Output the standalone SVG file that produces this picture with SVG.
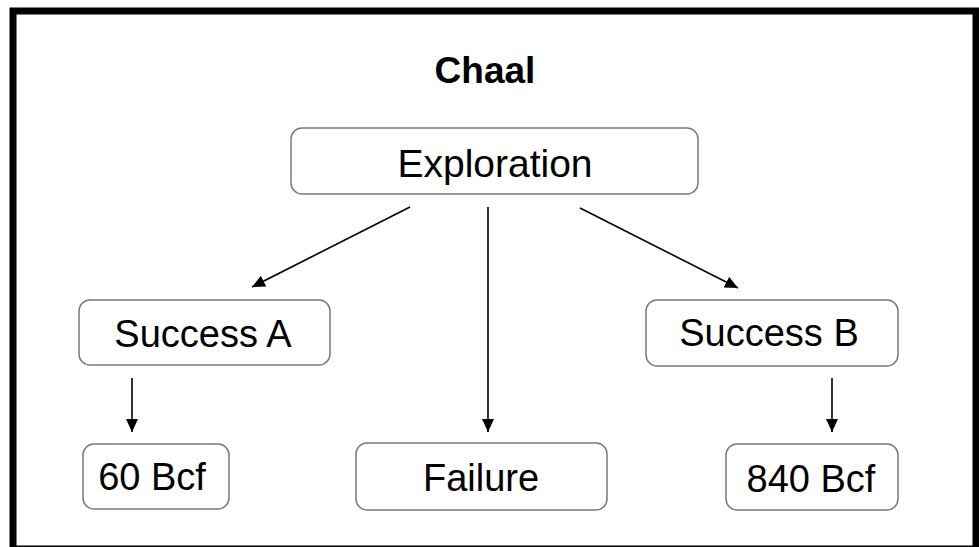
<svg xmlns="http://www.w3.org/2000/svg" width="979" height="547" viewBox="0 0 979 547">
  <defs>
    <marker id="arrow" markerUnits="userSpaceOnUse" markerWidth="14" markerHeight="14" viewBox="0 0 14 14" refX="13" refY="7" orient="auto">
      <path d="M0,1 L13,7 L0,13 Z" fill="#000"/>
    </marker>
  </defs>
  <style>
    .box { fill: #fff; stroke: #7a7a7a; stroke-width: 1.5; }
    .label { font-family: "Liberation Sans", Arial, sans-serif; font-size: 38px; fill: #000; text-anchor: middle; }
    .title { font-family: "Liberation Sans", Arial, sans-serif; font-size: 37px; font-weight: bold; fill: #000; text-anchor: middle; }
    .edge { stroke: #000; stroke-width: 1.6; fill: none; marker-end: url(#arrow); }
  </style>

  <rect width="979" height="547" fill="#fff"/>
  <!-- slide frame -->
  <rect x="13" y="11" width="963" height="538" fill="none" stroke="#000" stroke-width="7"/>

  <text class="title" x="485" y="83">Chaal</text>

  <g id="connectors">
    <line class="edge" x1="410" y1="207" x2="252" y2="287"/>
    <line class="edge" x1="488" y1="207" x2="488" y2="432"/>
    <line class="edge" x1="580" y1="208" x2="738" y2="288"/>
    <line class="edge" x1="132" y1="378" x2="132" y2="432"/>
    <line class="edge" x1="832" y1="378" x2="832" y2="432"/>
  </g>

  <g id="exploration">
    <rect class="box" x="291" y="128" width="407" height="66" rx="11"/>
    <text class="label" x="495" y="177" style="font-size:39px">Exploration</text>
  </g>

  <g id="success-a">
    <rect class="box" x="79" y="300" width="251" height="65" rx="11"/>
    <text class="label" x="203" y="347">Success A</text>
  </g>

  <g id="success-b">
    <rect class="box" x="646" y="300" width="252" height="66" rx="11"/>
    <text class="label" x="769" y="346">Success B</text>
  </g>

  <g id="bcf-60">
    <rect class="box" x="83" y="444" width="146" height="65" rx="11"/>
    <text class="label" x="152" y="490">60 Bcf</text>
  </g>

  <g id="failure">
    <rect class="box" x="356" y="443" width="251" height="67" rx="11"/>
    <text class="label" x="481" y="491">Failure</text>
  </g>

  <g id="bcf-840">
    <rect class="box" x="726" y="444" width="172" height="66" rx="11"/>
    <text class="label" x="811" y="492">840 Bcf</text>
  </g>
</svg>
